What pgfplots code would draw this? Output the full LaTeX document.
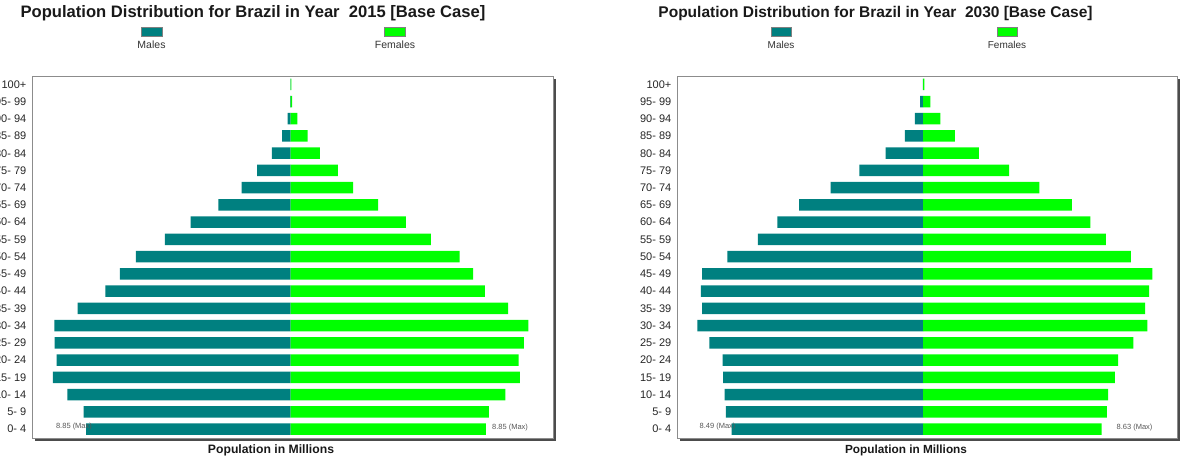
\documentclass[border=0pt]{standalone}
\usepackage{pgfplots}
\pgfplotsset{compat=1.18}
\usepackage{pgfplotstable}
\usepackage{fontspec}
\setmainfont{Liberation Sans}
\usetikzlibrary{shadows}
\definecolor{male}{RGB}{0,128,128}
\definecolor{female}{RGB}{0,255,0}

\pgfplotstableread{
age m15 f15 m30 f30
0  7.61 7.27 7.20 6.72
1  7.71 7.38 7.42 6.92
2  8.31 8.00 7.47 6.97
3  8.85 8.54 7.52 7.22
4  8.71 8.49 7.54 7.34
5  8.79 8.69 8.04 7.92
6  8.80 8.85 8.49 8.44
7  7.93 8.10 8.31 8.36
8  6.90 7.23 8.36 8.51
9  6.36 6.80 8.31 8.63
10 5.76 6.29 7.36 7.82
11 4.68 5.22 6.22 6.88
12 3.72 4.29 5.48 6.30
13 2.69 3.26 4.66 5.60
14 1.82 2.33 3.48 4.38
15 1.25 1.76 2.40 3.24
16 0.70 1.09 1.41 2.10
17 0.32 0.63 0.68 1.20
18 0.11 0.25 0.31 0.65
19 0.02 0.06 0.11 0.28
20 0.005 0.03 0.01 0.05
}\data

\pgfplotsset{pyr/.style={
  scale only axis, height=362pt,
  ymin=-0.52, ymax=20.48,
  xtick=\empty,
  ytick={0,...,20},
  yticklabels={0- 4,5- 9,10- 14,15- 19,20- 24,25- 29,30- 34,35- 39,40- 44,45- 49,50- 54,55- 59,60- 64,65- 69,70- 74,75- 79,80- 84,85- 89,90- 94,95- 99,100+},
  major tick length=0pt,
  axis line style={draw=black!45, line width=0.8pt},
  yticklabel style={font=\fontsize{11}{13}\selectfont, text=black!85, inner sep=0pt, xshift=-5.5pt},
  axis background/.style={fill=white, drop shadow={shadow xshift=3pt, shadow yshift=-3pt, fill=black!70, opacity=1}},
  xbar, bar width=11.5pt, bar shift=0pt,
  anchor=south west,
}}

\begin{document}
\begin{tikzpicture}
\path[use as bounding box] (0,0) rectangle (1180pt,457pt);

% ---------- 2015 ----------
\begin{axis}[pyr, at={(32pt,19pt)}, width=521pt, xmin=-9.63, xmax=9.77]
\addplot[fill=male, draw=none] table[x expr=-\thisrow{m15}, y=age]{\data};
\addplot[fill=female, draw=none] table[x=f15, y=age]{\data};
\end{axis}

% ---------- 2030 ----------
\begin{axis}[pyr, at={(677pt,19pt)}, width=500pt, xmin=-9.26, xmax=9.56]
\addplot[fill=male, draw=none] table[x expr=-\thisrow{m30}, y=age]{\data};
\addplot[fill=female, draw=none] table[x=f30, y=age]{\data};
\end{axis}

% titles
\node[font=\bfseries\fontsize{16.6}{19}\selectfont, text=black!90] at (253pt,443.5pt) {Population Distribution for Brazil in Year\ \ 2015 [Base Case]};
\node[font=\bfseries\fontsize{15.5}{18}\selectfont, text=black!90] at (875.5pt,443.5pt) {Population Distribution for Brazil in Year\ \ 2030 [Base Case]};

% legends
\node[fill=male, draw=black!50, line width=0.4pt, minimum width=21pt, minimum height=9pt, inner sep=0pt] at (151.5pt,425.5pt) {};
\node[fill=female, draw=black!50, line width=0.4pt, minimum width=21pt, minimum height=9pt, inner sep=0pt] at (395pt,425.5pt) {};
\node[font=\fontsize{10.5}{12}\selectfont, text=black!80] at (151.5pt,412pt) {Males};
\node[font=\fontsize{10.5}{12}\selectfont, text=black!80] at (395pt,412pt) {Females};

\node[fill=male, draw=black!50, line width=0.4pt, minimum width=20pt, minimum height=9pt, inner sep=0pt] at (781.5pt,425.5pt) {};
\node[fill=female, draw=black!50, line width=0.4pt, minimum width=20pt, minimum height=9pt, inner sep=0pt] at (1007pt,425.5pt) {};
\node[font=\fontsize{10}{12}\selectfont, text=black!80] at (781pt,412pt) {Males};
\node[font=\fontsize{10}{12}\selectfont, text=black!80] at (1007pt,412pt) {Females};

% max labels
\node[font=\fontsize{7.5}{9}\selectfont, text=black!65] at (74pt,30pt) {8.85 (Max)};
\node[font=\fontsize{7.5}{9}\selectfont, text=black!65] at (510pt,29pt) {8.85 (Max)};
\node[font=\fontsize{7.5}{9}\selectfont, text=black!65] at (717.5pt,30pt) {8.49 (Max)};
\node[font=\fontsize{7.5}{9}\selectfont, text=black!65] at (1134.5pt,29pt) {8.63 (Max)};

% x labels
\node[font=\bfseries\fontsize{12.2}{14}\selectfont, text=black!90] at (271pt,7pt) {Population in Millions};
\node[font=\bfseries\fontsize{11.8}{14}\selectfont, text=black!90] at (906pt,7pt) {Population in Millions};
\end{tikzpicture}
\end{document}
